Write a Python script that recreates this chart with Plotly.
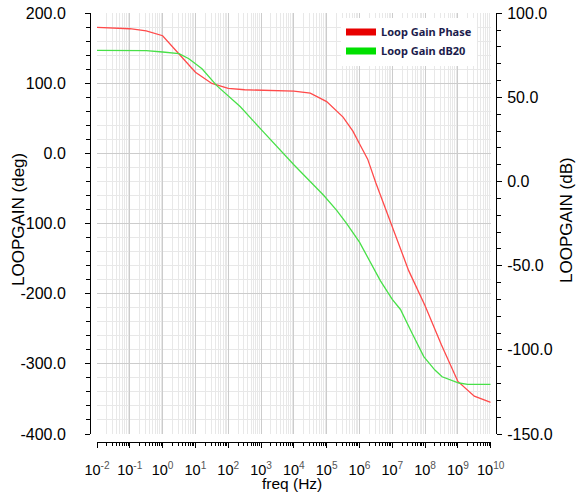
import plotly.graph_objects as go

# ---- data ----
phase_freq = [1e-2, 1e-1, 10**-0.5, 1e0, 10**0.5, 1e1, 10**1.5, 1e2, 10**2.5, 1e3, 10**3.5,
              1e4, 10**4.5, 1e5, 10**5.5, 10**5.8, 1e6, 10**6.25, 10**6.5, 1e7, 10**7.5,
              1e8, 10**8.5, 1e9, 10**9.5, 1e10]
phase_deg = [180, 178, 175, 168, 142, 116, 100, 93, 91, 90, 90,
             89, 86, 74, 52, 32, 14, -8, -42, -105, -167,
             -217, -273, -325, -346, -355]

gain_freq = [1e-2, 1e-1, 10**-0.5, 1e0, 10**0.5, 10**0.8, 1e1, 10**1.2, 10**1.65, 1e2, 10**2.37,
             1e3, 10**3.28, 10**3.6, 1e4, 10**4.2, 10**4.5, 10**4.9, 10**5.3, 10**5.6, 1e6,
             10**6.23, 10**6.64, 1e7, 10**7.25, 10**7.6, 10**7.96, 10**8.3, 10**8.52, 10**9.03,
             10**9.3, 1e10]
gain_db = [78, 78, 77.8, 77, 76, 73, 70, 67, 57, 51, 44.5,
           31, 25, 18.4, 10, 6, 0, -8, -17, -24.7, -36,
           -44.5, -59, -70, -76, -90, -104, -112, -116, -119.7,
           -120.5, -120.5]

left_ticks = [-400, -300, -200, -100, 0, 100, 200]
left_labels = ["-400.0", "-300.0", "-200.0", "-100.0", "0.0", "100.0", "200.0"]
right_ticks = [-150, -100, -50, 0, 50, 100]
right_labels = ["-150.0", "-100.0", "-50.0", "0.0", "50.0", "100.0"]
x_exps = list(range(-2, 11))
x_ticks = [10.0 ** e for e in x_exps]
x_labels = ["10<sup><span style='color:#555'>%d</span></sup>" % e for e in x_exps]

series_names = ["Loop Gain Phase", "Loop Gain dB20"]

RED = "#ff4a4a"
GREEN = "#48e048"
FONT = "Liberation Sans"

fig = go.Figure()
fig.add_trace(go.Scatter(x=phase_freq, y=phase_deg, mode="lines", yaxis="y",
                         line=dict(color=RED, width=1.3), showlegend=False))
fig.add_trace(go.Scatter(x=gain_freq, y=gain_db, mode="lines", yaxis="y2",
                         line=dict(color=GREEN, width=1.3), showlegend=False))
# legend swatches
fig.add_trace(go.Scatter(x=[None], y=[None], mode="lines", name=series_names[0],
                         line=dict(color="#e80000", width=7)))
fig.add_trace(go.Scatter(x=[None], y=[None], mode="lines", name=series_names[1],
                         line=dict(color="#00e000", width=7)))

W, H = 577, 493
x0, x1 = 97, 490.7
y_top, y_bot = 13.3, 434

minor_x = [k * 10.0 ** e for e in range(-2, 10) for k in range(2, 10)]

fig.update_layout(
    width=W, height=H,
    margin=dict(l=0, r=0, t=0, b=0, autoexpand=False),
    paper_bgcolor="white", plot_bgcolor="white",
    font=dict(family=FONT, size=14, color="black"),
    xaxis=dict(
        type="log", range=[-2, 10], domain=[x0 / W, x1 / W], automargin=False,
        anchor="free", position=1 - 441.7 / H,
        tickmode="array", tickvals=x_ticks, ticktext=x_labels,
        ticks="outside", ticklen=5, tickcolor="black",
        showline=True, linecolor="black", linewidth=1,
        showgrid=True, gridcolor="#cccccc", gridwidth=1,
        ticklabelstandoff=10,
        tickfont=dict(family=FONT, size=14.5, color="black"),
        minor=dict(tickmode="array", tickvals=minor_x, ticks="outside", ticklen=3,
                   tickcolor="black", showgrid=True, gridcolor="#e8e8e8"),
        zeroline=False,
    ),
    yaxis=dict(
        range=[-400, 200], domain=[1 - y_bot / H, 1 - y_top / H], automargin=False,
        anchor="free", position=90 / W,
        tickmode="array", tickvals=left_ticks, ticktext=left_labels,
        ticks="outside", ticklen=5, tickcolor="black",
        showline=True, linecolor="black", linewidth=1,
        showgrid=True, gridcolor="#cccccc",
        ticklabelstandoff=16,
        tickfont=dict(family=FONT, size=16, color="black"),
        minor=dict(tickmode="linear", tick0=0, dtick=20, ticks="outside", ticklen=4,
                   tickcolor="black", showgrid=True, gridcolor="#e8e8e8"),
        zeroline=False,
    ),
    yaxis2=dict(
        range=[-150, 100], overlaying="y", side="right", automargin=False,
        anchor="free", position=496 / W,
        tickmode="array", tickvals=right_ticks, ticktext=right_labels,
        ticks="outside", ticklen=5, tickcolor="black",
        showline=True, linecolor="black", linewidth=1,
        showgrid=False, zeroline=False,
        ticklabelstandoff=2,
        tickfont=dict(family=FONT, size=16, color="black"),
        minor=dict(tickmode="linear", tick0=0, dtick=10, ticks="outside", ticklen=4,
                   tickcolor="black", showgrid=False),
    ),
    legend=dict(x=341 / W, y=1 - 17.5 / H, xanchor="left", yanchor="top",
                bgcolor="white", borderwidth=0,
                font=dict(family="Noto Sans", size=11, color="#1c1c4c", weight="bold"),
                itemwidth=30, tracegroupgap=0),
    annotations=[
        dict(text="LOOPGAIN (deg)", x=19 / W, y=1 - 220 / H, xref="paper", yref="paper",
             xanchor="center", yanchor="middle",
             textangle=-90, showarrow=False, font=dict(family=FONT, size=17, color="black")),
        dict(text="LOOPGAIN (dB)", x=567 / W, y=1 - 220 / H, xref="paper", yref="paper",
             xanchor="center", yanchor="middle",
             textangle=-90, showarrow=False, font=dict(family=FONT, size=17, color="black")),
        dict(text="freq (Hz)", x=292 / W, y=1 - 483 / H, xref="paper", yref="paper",
             xanchor="center", yanchor="middle",
             showarrow=False, font=dict(family=FONT, size=15.5, color="black")),
    ],
)

fig.write_html("out.html")
